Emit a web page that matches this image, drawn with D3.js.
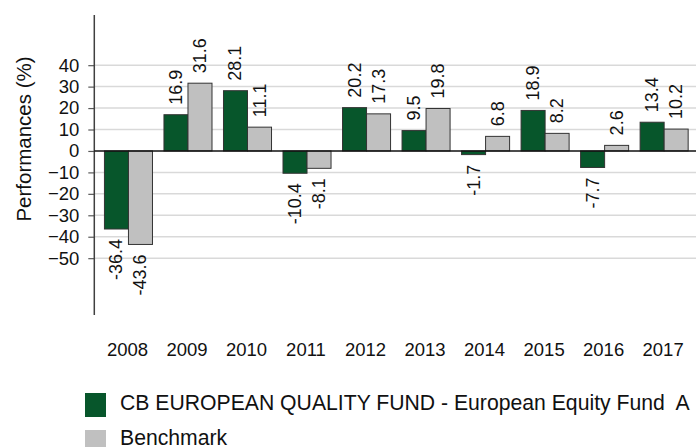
<!DOCTYPE html>
<html><head><meta charset="utf-8">
<script src="https://cdn.jsdelivr.net/npm/d3@7"></script>
<style>
html,body{margin:0;padding:0;background:#fff;}
svg{display:block;font-family:"Liberation Sans",Arial,sans-serif;}
</style></head>
<body>
<svg id="chart" width="696" height="447"></svg>
<script>
const years = ["2008","2009","2010","2011","2012","2013","2014","2015","2016","2017"];
const fundValues = [-36.4, 16.9, 28.1, -10.4, 20.2, 9.5, -1.7, 18.9, -7.7, 13.4];
const benchmarkValues = [-43.6, 31.6, 11.1, -8.1, 17.3, 19.8, 6.8, 8.2, 2.6, 10.2];
const seriesNames = ["CB EUROPEAN QUALITY FUND - European Equity Fund  A", "Benchmark"];
const seriesColors = ["#07562b", "#c0c0c0"];
const yTicks = [-50, -40, -30, -20, -10, 0, 10, 20, 30, 40];
const yTitle = "Performances (%)";

const svg = d3.select("#chart");
const axisX = 94.3;
const y = d3.scaleLinear().domain([-76.5, 63.4]).range([315, 15]);
const x0 = d3.scaleBand().domain(years).range([98.7, 693.9]).paddingInner(0.193).paddingOuter(0.0965);
const x1 = d3.scaleBand().domain([0, 1]).range([0, x0.bandwidth()]);

// gridlines
svg.append("g").selectAll("line").data(yTicks.filter(d => d !== 0)).join("line")
  .attr("x1", axisX).attr("x2", 696)
  .attr("y1", d => y(d)).attr("y2", d => y(d))
  .attr("stroke", "#d9d9d9").attr("stroke-width", 1.5);

// y axis
const yAxis = d3.axisLeft(y).tickValues(yTicks).tickSize(6).tickPadding(9).tickFormat(d3.format("d"));
const gy = svg.append("g").attr("transform", `translate(${axisX},0)`).call(yAxis);
gy.select(".domain").remove();
gy.selectAll(".tick line").attr("stroke", "#595959").attr("stroke-width", 1.2);
gy.selectAll(".tick text").attr("font-size", 18.5).attr("fill", "#111")
  .attr("font-family", "Liberation Sans, Arial, sans-serif");
svg.append("line").attr("x1", axisX).attr("x2", axisX).attr("y1", y.range()[1]).attr("y2", y.range()[0])
  .attr("stroke", "#404040").attr("stroke-width", 1.5);

// bars
const rows = years.map((yr, i) => ({ year: yr, vals: [fundValues[i], benchmarkValues[i]] }));
const groups = svg.append("g").selectAll("g").data(rows).join("g")
  .attr("transform", d => `translate(${x0(d.year)},0)`);
groups.selectAll("rect").data(d => d.vals.map((v, s) => ({ v, s }))).join("rect")
  .attr("x", d => x1(d.s)).attr("width", x1.bandwidth())
  .attr("y", d => y(Math.max(0, d.v))).attr("height", d => Math.abs(y(d.v) - y(0)))
  .attr("fill", d => seriesColors[d.s]).attr("stroke", "#333").attr("stroke-width", 1);

// zero line
svg.append("line").attr("x1", axisX).attr("x2", 696).attr("y1", y(0)).attr("y2", y(0))
  .attr("stroke", "#111").attr("stroke-width", 1.5);

// value labels
groups.selectAll("text.val").data(d => d.vals.map((v, s) => ({ v, s }))).join("text")
  .attr("class", "val")
  .attr("transform", d => {
    const cx = x1(d.s) + x1.bandwidth() / 2;
    const py = d.v >= 0 ? y(d.v) - 10 : y(d.v) + 10;
    return `translate(${cx},${py}) rotate(-90)`;
  })
  .attr("text-anchor", d => d.v >= 0 ? "start" : "end")
  .attr("dominant-baseline", "central")
  .attr("font-size", 18).attr("fill", "#111")
  .text(d => d.v.toFixed(1));

// x labels
svg.append("g").selectAll("text").data(years).join("text")
  .attr("x", d => x0(d) + x0.bandwidth() / 2 - 1).attr("y", 356)
  .attr("text-anchor", "middle").attr("font-size", 18.5).attr("fill", "#111")
  .text(d => d);

// y title
svg.append("text").attr("transform", "translate(31,139) rotate(-90)")
  .attr("text-anchor", "middle").attr("font-size", 20.5).attr("fill", "#111")
  .text(yTitle);

// legend
const leg = svg.append("g").selectAll("g").data(seriesNames).join("g")
  .attr("transform", (d, i) => `translate(85,${393 + i * 37})`);
leg.append("rect").attr("width", 21).attr("height", 24).attr("fill", (d, i) => seriesColors[i]);
leg.append("text").attr("x", 35).attr("y", (d, i) => i === 0 ? 17 : 14.5).attr("font-size", 21.2).attr("fill", "#111")
  .attr("xml:space", "preserve").style("white-space", "pre").text(d => d);
</script>
</body></html>
